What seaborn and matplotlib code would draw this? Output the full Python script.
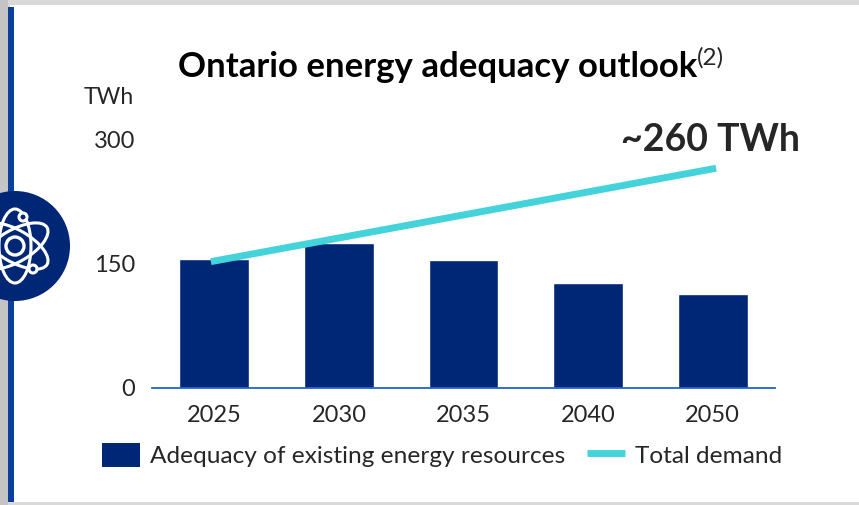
import matplotlib
matplotlib.use("Agg")
import matplotlib.pyplot as plt
from matplotlib.patches import Rectangle, Circle, Ellipse, Patch
from matplotlib.lines import Line2D
import seaborn as sns
import pandas as pd

years = ["2025", "2030", "2035", "2040", "2050"]
adequacy = [155, 175, 154, 127, 113]
demand_years = ["2025", "2050"]
demand = [153, 264]
y_ticks = [0, 150, 300]

NAVY = "#002776"
TEAL = "#45D3DB"
TXT = "#262626"
W, H = 859, 505

sns.set_theme(style="white")
plt.rcParams["font.family"] = ["Lato", "DejaVu Sans"]

fig = plt.figure(figsize=(W / 100, H / 100), dpi=100, facecolor="#D9D9D9")

# Slide decoration in pixel coordinates
bg = fig.add_axes([0, 0, 1, 1], zorder=0)
bg.set_xlim(0, W); bg.set_ylim(H, 0); bg.axis("off")
bg.add_patch(Rectangle((0, 0), 8, H, color="#C4C4C4", lw=0))
bg.add_patch(Rectangle((10, 5), W, 497, color="white", lw=0))
bg.add_patch(Rectangle((8, 7), 6, 495, color="#0B3F9C", lw=0))
bg.add_patch(Circle((15, 246), 55, color=NAVY, lw=0))
for ang in (30, 90, 150):
    bg.add_patch(Ellipse((15, 246), 74, 32, angle=ang, fill=False, ec="white", lw=2.2))
bg.add_patch(Circle((15, 246), 9, fill=False, ec="white", lw=2.4))
bg.add_patch(Circle((23, 217), 4, fc=NAVY, ec="white", lw=2.2))
bg.add_patch(Circle((33, 269), 4, fc=NAVY, ec="white", lw=2.2))

# Chart
ax = fig.add_axes([152 / W, 1 - 388 / H, (775 - 152) / W, (388 - 139) / H], zorder=1)
ax.patch.set_alpha(0)
df = pd.DataFrame({"year": years, "adequacy": adequacy})
sns.barplot(data=df, x="year", y="adequacy", order=years, color=NAVY, saturation=1,
            width=0.56, ax=ax)
dem = pd.DataFrame({"pos": [years.index(y) for y in demand_years], "demand": demand})
sns.lineplot(data=dem, x="pos", y="demand", color=TEAL, lw=5, ax=ax,
             solid_capstyle="projecting", clip_on=False)
ax.set_xlim(-0.5, 4.5)
ax.set_ylim(0, 300)
ax.set_xlabel(""); ax.set_ylabel("")
ax.set_yticks(y_ticks)
ax.tick_params(axis="both", length=0, labelsize=17, labelcolor=TXT)
ax.tick_params(axis="x", pad=12)
ax.tick_params(axis="y", pad=12)
sns.despine(ax=ax, left=True)
ax.spines["bottom"].set_color("#1F63D6")
ax.spines["bottom"].set_linewidth(1.3)

def px(x, y, s, **kw):
    fig.text(x / W, 1 - y / H, s, **kw)

px(178, 67, "Ontario energy adequacy outlook", fontsize=25, fontweight="bold",
   color="black", va="center", ha="left")
px(697, 58, "(2)", fontsize=17.5, color=TXT, va="center", ha="left")
px(84, 98, "TWh", fontsize=16.5, color=TXT, va="center", ha="left")
px(621, 140, "~260 TWh", fontsize=27, fontweight="bold", color=TXT, va="center", ha="left")

# Legend
fs = 17.6
handles = [Patch(color=NAVY, lw=0),
           Line2D([0], [0], color=TEAL, lw=5, solid_capstyle="butt")]
labels = ["Adequacy of existing energy resources", "Total demand"]
k = 100 / 72 * fs
fig.legend(handles, labels, ncol=2, frameon=False, fontsize=fs, labelcolor=TXT,
           loc="center left", bbox_to_anchor=(102 / W, 1 - 455 / H), borderaxespad=0,
           borderpad=0, handlelength=38 / k, handleheight=28 / k,
           handletextpad=10 / k, columnspacing=22 / k)

fig.savefig("out.png", dpi=100, facecolor=fig.get_facecolor())
